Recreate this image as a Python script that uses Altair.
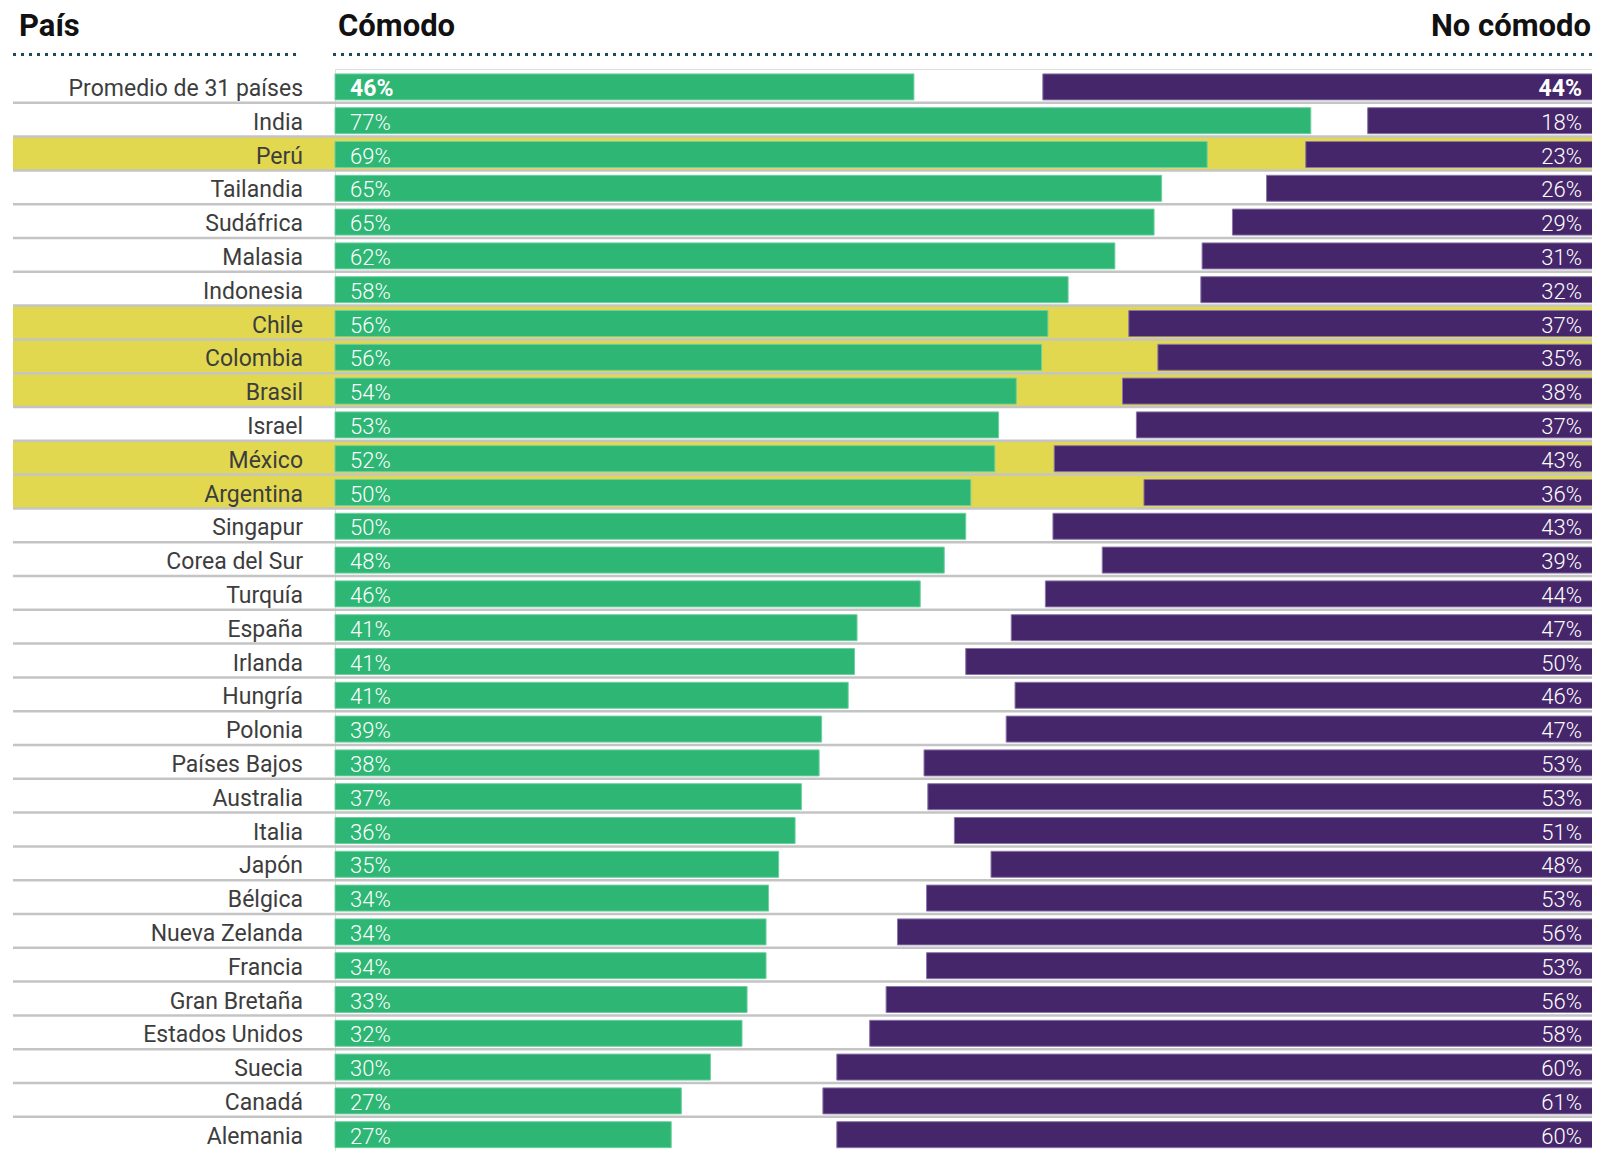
import altair as alt
import pandas as pd

countries = ["Promedio de 31 países", "India", "Perú", "Tailandia", "Sudáfrica", "Malasia",
             "Indonesia", "Chile", "Colombia", "Brasil", "Israel", "México", "Argentina",
             "Singapur", "Corea del Sur", "Turquía", "España", "Irlanda", "Hungría", "Polonia",
             "Países Bajos", "Australia", "Italia", "Japón", "Bélgica", "Nueva Zelanda",
             "Francia", "Gran Bretaña", "Estados Unidos", "Suecia", "Canadá", "Alemania"]
comodo = [45.8, 77.2, 69.0, 65.4, 64.8, 61.7, 58.0, 56.4, 55.9, 53.9, 52.5, 52.2, 50.3,
          49.9, 48.2, 46.3, 41.3, 41.1, 40.6, 38.5, 38.3, 36.9, 36.4, 35.1, 34.3, 34.1,
          34.1, 32.6, 32.2, 29.7, 27.4, 26.6]
no_comodo = [44.0, 18.3, 23.2, 26.3, 29.0, 31.4, 31.5, 37.2, 34.9, 37.7, 36.6, 43.1, 36.0,
             43.2, 39.3, 43.8, 46.5, 50.1, 46.2, 46.9, 53.4, 53.1, 51.0, 48.1, 53.2, 55.5,
             53.2, 56.4, 57.7, 60.3, 61.4, 60.3]
comodo_labels = ["46%", "77%", "69%", "65%", "65%", "62%", "58%", "56%", "56%", "54%", "53%",
                 "52%", "50%", "50%", "48%", "46%", "41%", "41%", "41%", "39%", "38%", "37%",
                 "36%", "35%", "34%", "34%", "34%", "33%", "32%", "30%", "27%", "27%"]
no_comodo_labels = ["44%", "18%", "23%", "26%", "29%", "31%", "32%", "37%", "35%", "38%", "37%",
                    "43%", "36%", "43%", "39%", "44%", "47%", "50%", "46%", "47%", "53%", "53%",
                    "51%", "48%", "53%", "56%", "53%", "56%", "58%", "60%", "61%", "60%"]
highlighted = ["Perú", "Chile", "Colombia", "Brasil", "México", "Argentina"]
headers = ["País", "Cómodo", "No cómodo"]

GREEN = "#2db674"
PURPLE = "#46266a"
YELLOW = "#e2d84f"
SEP = "#c4c4c4"
FONT = "Roboto"

df = pd.DataFrame({
    "country": countries,
    "c": comodo,
    "n": no_comodo,
    "c_lab": comodo_labels,
    "n_lab": no_comodo_labels,
    "idx": list(range(len(countries))),
    "hl": [c in highlighted for c in countries],
})

PITCH = 33.8
yscale = alt.Scale(domain=countries, range=[0, PITCH * len(countries)], paddingInner=0, paddingOuter=0)
xscale = alt.Scale(domain=[0, 100], range=[0, 1264], nice=False)

Y = alt.Y("country:N", sort=countries, scale=yscale, axis=None)

base = alt.Chart(df)

hl_rect = base.transform_filter("datum.hl").mark_rect(color=YELLOW).encode(
    y=Y, x=alt.value(-322), x2=alt.value(1265))

seps = base.transform_filter("datum.idx > 0").mark_rule(color=SEP, strokeWidth=2.5).encode(
    y=alt.Y("country:N", sort=countries, scale=yscale, bandPosition=0,
            axis=alt.Axis(labels=False, title=None, ticks=True, tickSize=7, tickWidth=2,
                          tickColor="#9a9a9a", domainColor="#9a9a9a", domainWidth=2,
                          offset=2, bandPosition=0, grid=False)),
    x=alt.value(-322), x2=alt.value(1265))

green = base.mark_bar(height=26, yOffset=1, color=GREEN, stroke="#6fd09f", strokeWidth=1).encode(
    y=Y, x=alt.X("c:Q", scale=xscale, axis=None), x2=alt.datum(0))

purple = base.transform_calculate(start="100 - datum.n").mark_bar(
    height=26, yOffset=1, color=PURPLE, stroke="#8a76a8", strokeWidth=1).encode(
    y=Y, x=alt.X("start:Q", scale=xscale, axis=None), x2=alt.datum(100))

g_lab = base.transform_filter("datum.idx > 0").mark_text(
    align="left", baseline="alphabetic", dx=15, dy=10, font=FONT, fontSize=22,
    fontWeight=300, color="white").encode(y=Y, x=alt.datum(0, scale=xscale), text="c_lab:N")
g_lab0 = base.transform_filter("datum.idx == 0").mark_text(
    align="left", baseline="alphabetic", dx=15, dy=10, font=FONT, fontSize=23,
    fontWeight="bold", color="white").encode(y=Y, x=alt.datum(0, scale=xscale), text="c_lab:N")
p_lab = base.transform_filter("datum.idx > 0").mark_text(
    align="right", baseline="alphabetic", dx=-17, dy=10, font=FONT, fontSize=22,
    fontWeight=300, color="white").encode(y=Y, x=alt.datum(100, scale=xscale), text="n_lab:N")
p_lab0 = base.transform_filter("datum.idx == 0").mark_text(
    align="right", baseline="alphabetic", dx=-17, dy=10, font=FONT, fontSize=23,
    fontWeight="bold", color="white").encode(y=Y, x=alt.datum(100, scale=xscale), text="n_lab:N")

names = base.mark_text(align="right", baseline="alphabetic", dy=10, font=FONT, fontSize=23,
                       color="#3d3d3d").encode(y=Y, x=alt.value(-32), text="country:N")

hdf = pd.DataFrame({"t": headers})
hbase = alt.Chart(hdf)
h1 = hbase.transform_filter(alt.datum.t == headers[0]).mark_text(
    align="left", baseline="alphabetic", font=FONT, fontSize=31, fontWeight="bold",
    color="#111111").encode(x=alt.value(-316), y=alt.value(-33), text="t:N")
h2 = hbase.transform_filter(alt.datum.t == headers[1]).mark_text(
    align="left", baseline="alphabetic", font=FONT, fontSize=31, fontWeight="bold",
    color="#111111").encode(x=alt.value(3), y=alt.value(-33), text="t:N")
h3 = hbase.transform_filter(alt.datum.t == headers[2]).mark_text(
    align="right", baseline="alphabetic", font=FONT, fontSize=31, fontWeight="bold",
    color="#111111").encode(x=alt.value(1256), y=alt.value(-33), text="t:N")

dots_l = hbase.transform_filter(alt.datum.t == headers[0]).mark_rule(
    color="#1f4a5a", strokeWidth=3, strokeDash=[3, 5]).encode(
    x=alt.value(-322), x2=alt.value(-38), y=alt.value(-14.5))
dots_r = hbase.transform_filter(alt.datum.t == headers[1]).mark_rule(
    color="#1f4a5a", strokeWidth=3, strokeDash=[3, 5]).encode(
    x=alt.value(-2), x2=alt.value(1265), y=alt.value(-14.5))

chart = alt.layer(hl_rect, seps, green, purple, g_lab, g_lab0, p_lab, p_lab0, names,
                  h1, h2, h3, dots_l, dots_r).properties(
    width=1257, height=1082,
    autosize=alt.AutoSizeParams(type="none"),
    padding={"left": 327, "top": 61, "right": 0, "bottom": 0},
).configure_view(stroke=None).configure(background="white")

chart.save("out.html", embed_options={"renderer": "svg", "actions": False})
